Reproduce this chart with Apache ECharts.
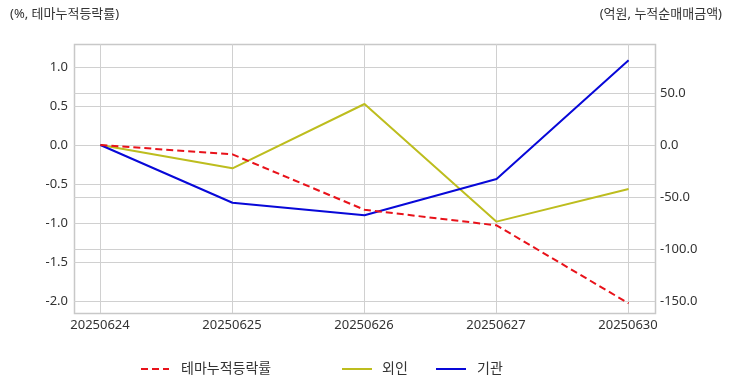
<!DOCTYPE html>
<html>
<head>
<meta charset="utf-8">
<script src="https://cdn.jsdelivr.net/npm/echarts@6/dist/echarts.min.js"></script>
<style>html,body{margin:0;padding:0;background:#fff}#c{width:732px;height:392px}</style>
</head>
<body>
<div id="c"></div>
<script>
const categories = ['20250624', '20250625', '20250626', '20250627', '20250630'];
const themeReturn = [0.0, -0.12, -0.83, -1.03, -2.03];
const foreignNet = [0.0, -22.4, 39.4, -73.7, -42.3];
const instNet = [0.0, -55.5, -67.6, -32.7, 81.4];
const leftTicks = [-2.0, -1.5, -1.0, -0.5, 0.0, 0.5, 1.0];
const rightTicks = [-150, -100, -50, 0, 50];

const FONT = "'Noto Sans', 'Noto Sans CJK KR', sans-serif";
const GRIDC = '#d0d0d0';
const pairs = arr => arr.map((v, i) => [i, v]);

const chart = echarts.init(document.getElementById('c'));
chart.setOption({
  animation: false,
  textStyle: { fontFamily: FONT },
  title: [
    { text: '(%, 테마누적등락률)', left: 5, top: 3, textStyle: { fontSize: 13, fontWeight: 'normal', color: '#333', fontFamily: FONT } },
    { text: '(억원, 누적순매매금액)', right: 5, top: 3, textStyle: { fontSize: 13, fontWeight: 'normal', color: '#333', fontFamily: FONT } }
  ],
  graphic: [{
    type: 'rect', shape: { x: 74.5, y: 44.5, width: 581, height: 269 },
    style: { fill: 'none', stroke: '#c8c8c8', lineWidth: 1.5 }, z: 0
  }],
  grid: [
    { left: 100, right: 104, top: 44, bottom: 79 },
    { left: 74, right: 77, top: 67, bottom: 91 }
  ],
  xAxis: [
    {
      gridIndex: 0, type: 'value', min: 0, max: categories.length - 1, interval: 1,
      axisLine: { show: false }, axisTick: { show: false },
      splitLine: { show: true, lineStyle: { color: GRIDC, width: 1 } },
      axisLabel: { margin: 6, fontSize: 13, color: '#333', formatter: v => categories[v] || '' }
    },
    { gridIndex: 1, type: 'value', min: -0.2, max: categories.length - 0.8, show: false, splitLine: { show: false } }
  ],
  yAxis: [
    { gridIndex: 0, type: 'value', show: false, splitLine: { show: false } },
    {
      gridIndex: 1, type: 'value', position: 'left', min: leftTicks[0], max: leftTicks[leftTicks.length - 1], interval: 0.5,
      axisLine: { show: false }, axisTick: { show: false },
      splitLine: { show: true, lineStyle: { color: GRIDC, width: 1 } },
      axisLabel: { margin: 6, fontSize: 13, color: '#333', formatter: v => v.toFixed(1) }
    },
    {
      gridIndex: 1, type: 'value', position: 'right', min: rightTicks[0], max: 75, interval: 50,
      axisLine: { show: false }, axisTick: { show: false },
      splitLine: { show: true, lineStyle: { color: GRIDC, width: 1 } },
      axisLabel: { margin: 5, fontSize: 13, color: '#333', formatter: v => (rightTicks.indexOf(v) >= 0 ? v.toFixed(1) : '') }
    }
  ],
  legend: [
    { left: 135, top: 357, itemWidth: 28, itemHeight: 14, itemStyle: { opacity: 0 }, data: ['테마누적등락률'], textStyle: { fontSize: 14, color: '#333', padding: [0, 0, 0, 7] } },
    { left: 336, top: 357, itemWidth: 30, itemHeight: 14, itemStyle: { opacity: 0 }, data: ['외인'], textStyle: { fontSize: 14, color: '#333', padding: [0, 0, 0, 5] } },
    { left: 430, top: 357, itemWidth: 30, itemHeight: 14, itemStyle: { opacity: 0 }, data: ['기관'], textStyle: { fontSize: 14, color: '#333', padding: [0, 0, 0, 6] } }
  ],
  series: [
    {
      name: '테마누적등락률', type: 'line', xAxisIndex: 1, yAxisIndex: 1, data: pairs(themeReturn),
      symbol: 'none', clip: false, color: '#e8121a',
      lineStyle: { color: '#e8121a', width: 2, type: [7, 4] }, z: 5
    },
    {
      name: '외인', type: 'line', xAxisIndex: 1, yAxisIndex: 2, data: pairs(foreignNet),
      symbol: 'none', clip: false, color: '#bdbd1e',
      lineStyle: { color: '#bdbd1e', width: 2 }, z: 4
    },
    {
      name: '기관', type: 'line', xAxisIndex: 1, yAxisIndex: 2, data: pairs(instNet),
      symbol: 'none', clip: false, color: '#0808d8',
      lineStyle: { color: '#0808d8', width: 2 }, z: 4
    }
  ]
});
</script>
</body>
</html>
